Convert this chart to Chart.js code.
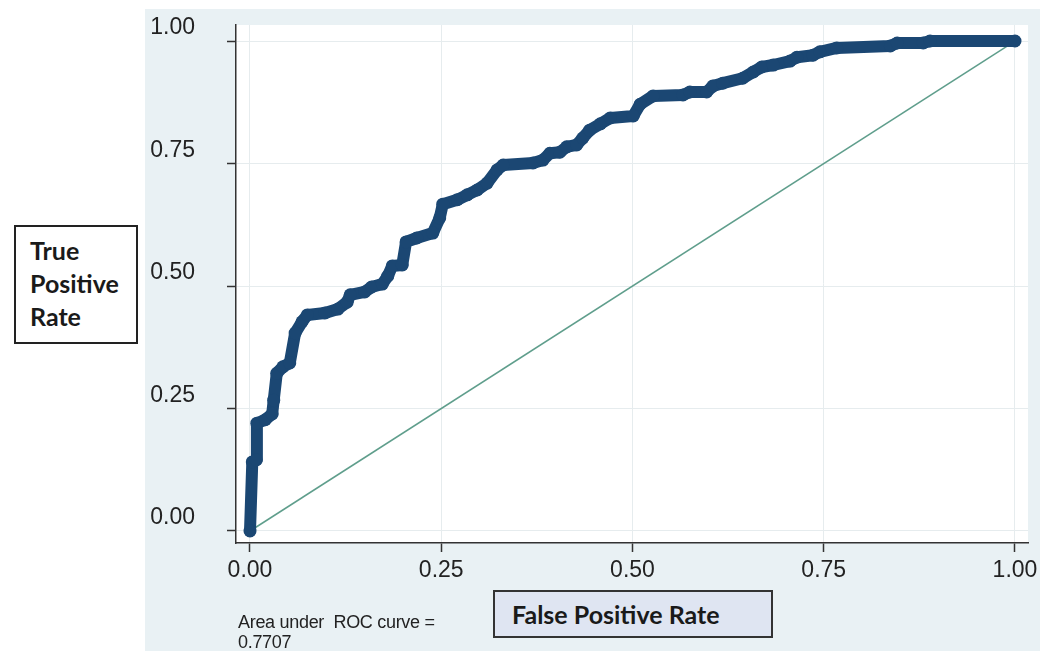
<!DOCTYPE html>
<html>
<head>
<meta charset="utf-8">
<script src="https://cdn.jsdelivr.net/npm/chart.js@4/dist/chart.umd.min.js"></script>
<style>
  body { margin: 0; background: #fff; }
  #wrap { position: relative; width: 1053px; height: 651px; overflow: hidden; }
  #roc { position: absolute; left: 0; top: 0; }
  .box { position: absolute; box-sizing: border-box; font-family: Lato, "Noto Sans", sans-serif; font-weight: bold; color: #1a1a1a; }
  #ylab { left: 14px; top: 225px; width: 124px; height: 119px; border: 2px solid #222; background: #fff;
          padding: 7px 0 0 14px; font-size: 25px; line-height: 33px; }
  #xlab { left: 493px; top: 590px; width: 280px; height: 48px; border: 2px solid #333; background: #dfe5f2;
          padding-left: 17px; font-size: 25px; line-height: 44px; }
  #auc { position: absolute; left: 238px; top: 612px; font-family: "Liberation Sans", Arial, sans-serif;
         font-size: 18px; line-height: 20px; color: #222; letter-spacing: -0.3px; }
</style>
</head>
<body>
<div id="wrap">
  <canvas id="roc" width="1053" height="651"></canvas>
  <div class="box" id="ylab">True<br>Positive<br>Rate</div>
  <div class="box" id="xlab">False Positive Rate</div>
  <div id="auc">Area under&nbsp; ROC curve =<br>0.7707</div>
</div>
<script>
// ROC curve
const fpr = [0, 0.003, 0.008, 0.009, 0.020, 0.029, 0.031, 0.035, 0.043, 0.052, 0.059, 0.068, 0.075,
  0.098, 0.115, 0.127, 0.131, 0.150, 0.159, 0.173, 0.180, 0.186, 0.199, 0.204, 0.218, 0.239, 0.248,
  0.252, 0.271, 0.284, 0.297, 0.310, 0.323, 0.331, 0.370, 0.383, 0.392, 0.405, 0.414, 0.427, 0.435,
  0.444, 0.458, 0.471, 0.501, 0.510, 0.527, 0.566, 0.575, 0.597, 0.605, 0.618, 0.644, 0.658, 0.669,
  0.684, 0.706, 0.715, 0.736, 0.745, 0.767, 0.837, 0.846, 0.880, 0.889, 1];
const tpr = [0, 0.141, 0.145, 0.220, 0.227, 0.239, 0.267, 0.322, 0.335, 0.343, 0.404, 0.427, 0.441,
  0.445, 0.453, 0.467, 0.482, 0.488, 0.498, 0.504, 0.520, 0.541, 0.543, 0.590, 0.598, 0.608, 0.639,
  0.667, 0.676, 0.686, 0.696, 0.710, 0.737, 0.747, 0.751, 0.757, 0.771, 0.773, 0.784, 0.788, 0.802,
  0.818, 0.831, 0.843, 0.847, 0.871, 0.888, 0.890, 0.896, 0.896, 0.908, 0.914, 0.924, 0.937, 0.947,
  0.951, 0.959, 0.967, 0.971, 0.978, 0.986, 0.990, 0.996, 0.996, 1, 1];
const refX = [0, 1];
const refY = [0, 1];
const tickVals = [0, 0.25, 0.5, 0.75, 1];

// page background: white, blue-grey graph region, white plot region
const bgPlugin = {
    id: 'bg',
    beforeDraw(chart) {
        const ctx = chart.ctx, a = chart.chartArea;
        ctx.save();
        ctx.fillStyle = '#fff';
        ctx.fillRect(0, 0, chart.width, chart.height);
        ctx.fillStyle = '#e9f1f4';
        ctx.fillRect(145, 9, 895, 642);
        ctx.fillStyle = '#fff';
        ctx.fillRect(a.left, a.top, a.right - a.left, a.bottom - a.top);
        ctx.restore();
    }
};

const axisFont = { family: '"Liberation Sans", Arial, sans-serif', size: 23 };

new Chart(document.getElementById('roc'), {
    type: 'scatter',
    data: {
        datasets: [{
            data: fpr.map((v, i) => ({ x: v, y: tpr[i] })),
            showLine: true,
            borderColor: '#1b4773',
            backgroundColor: '#1b4773',
            borderWidth: 12,
            borderJoinStyle: 'round',
            borderCapStyle: 'round',
            pointRadius: 6.5,
            pointBorderWidth: 0,
            order: 1
        }, {
            data: refX.map((v, i) => ({ x: v, y: refY[i] })),
            showLine: true,
            borderColor: '#5f9e8c',
            borderWidth: 1.5,
            pointRadius: 0,
            order: 2
        }]
    },
    options: {
        responsive: false,
        animation: false,
        devicePixelRatio: 1,
        layout: { padding: { top: 25, right: 25, left: 0, bottom: 0 } },
        plugins: { legend: { display: false }, tooltip: { enabled: false } },
        scales: {
            x: {
                type: 'linear',
                min: -0.0183,
                max: 1.017,
                afterBuildTicks: s => { s.ticks = tickVals.map(v => ({ value: v })); },
                afterFit: s => { s.height = 108; s.paddingLeft = 0; s.paddingRight = 0; },
                ticks: { callback: v => v.toFixed(2), font: axisFont, color: '#222', padding: 5, maxRotation: 0 },
                grid: { color: '#e6ecee', tickColor: '#333', tickLength: 9, tickWidth: 1.5 },
                border: { display: true, color: '#333', width: 1.5 }
            },
            y: {
                type: 'linear',
                min: -0.0245,
                max: 1.0327,
                afterBuildTicks: s => { s.ticks = tickVals.map(v => ({ value: v })); },
                afterFit: s => { s.width = 236; s.paddingTop = 0; s.paddingBottom = 0; },
                ticks: { callback: v => v.toFixed(2), font: axisFont, color: '#222', padding: 32, labelOffset: -13 },
                grid: { color: '#e6ecee', tickColor: '#333', tickLength: 9, tickWidth: 1.5 },
                border: { display: true, color: '#333', width: 1.5 }
            }
        }
    },
    plugins: [bgPlugin]
});
</script>
</body>
</html>
